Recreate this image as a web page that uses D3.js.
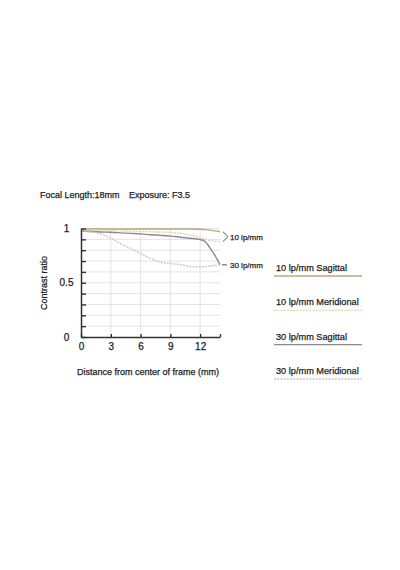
<!DOCTYPE html>
<html>
<head>
<meta charset="utf-8">
<script src="https://cdn.jsdelivr.net/npm/d3@7"></script>
<style>
  body { margin: 0; background: #fff; }
  svg text { font-family: "Liberation Sans", Arial, Helvetica, sans-serif; fill: #1e1e1e; stroke: #1e1e1e; stroke-width: 0.25; }
</style>
</head>
<body>
<svg id="mtf" width="400" height="570"></svg>
<script>
// distance from centre of frame (mm)
const positions = [0, 1, 2, 3, 4, 5, 6, 7, 8, 9, 10, 11, 12, 12.5, 13, 13.5, 14];

// contrast values
const sag10 = [0.995, 0.995, 0.995, 0.995, 0.995, 0.995, 0.995, 0.995, 0.995, 0.995, 0.995, 0.995, 0.993, 0.99, 0.985, 0.978, 0.97];
const mer10 = [0.985, 0.984, 0.982, 0.98, 0.978, 0.976, 0.973, 0.97, 0.967, 0.963, 0.955, 0.94, 0.917, 0.902, 0.89, 0.884, 0.88];
const sag30 = [0.975, 0.972, 0.968, 0.965, 0.96, 0.955, 0.95, 0.943, 0.937, 0.93, 0.92, 0.91, 0.898, 0.88, 0.82, 0.75, 0.665];
const mer30 = [0.975, 0.97, 0.95, 0.91, 0.86, 0.815, 0.77, 0.725, 0.69, 0.677, 0.668, 0.65, 0.645, 0.648, 0.655, 0.66, 0.665];

const seriesNames = ["10 lp/mm Sagittal", "10 lp/mm Meridional", "30 lp/mm Sagittal", "30 lp/mm Meridional"];
const xTicks = [0, 3, 6, 9, 12, 14];
const yTicks = [0, 0.1, 0.2, 0.3, 0.4, 0.5, 0.6, 0.7, 0.8, 0.9, 1];
const yLabels = [0, 0.5, 1];

const svg = d3.select("#mtf");

const x = d3.scaleLinear().domain([0, 14]).range([81, 220]);
const y = d3.scaleLinear().domain([0, 1]).range([337, 228.5]);

const colors = ["#bba77c", "#e0d3b3", "#8a8a8a", "#c6c6c6"];
const dashes = [null, "2,1.2", null, "2,1.2"];

// title
const title = svg.append("text").attr("y", 198).attr("font-size", 9);
title.append("tspan").attr("x", 40).text("Focal Length:18mm");
title.append("tspan").attr("x", 129).text("Exposure: F3.5");

// grid
const grid = svg.append("g").attr("stroke", "#dcdcdc").attr("stroke-width", 0.8);
grid.selectAll("line.h")
    .data(yTicks.filter(d => d > 0))
    .join("line")
    .attr("x1", x(0)).attr("x2", x(14))
    .attr("y1", d => y(d)).attr("y2", d => y(d));
grid.selectAll("line.v")
    .data([3, 6, 9, 12])
    .join("line")
    .attr("class", "v")
    .attr("x1", d => x(d)).attr("x2", d => x(d))
    .attr("y1", y(0)).attr("y2", y(1));

// curves
const line = d3.line()
    .x((d, i) => x(positions[i]))
    .y(d => y(d))
    .curve(d3.curveMonotoneX);

const allSeries = [sag10, mer10, sag30, mer30];
svg.append("g")
    .attr("fill", "none")
    .selectAll("path")
    .data(allSeries)
    .join("path")
    .attr("d", d => line(d))
    .attr("stroke", (d, i) => colors[i])
    .attr("stroke-width", 1.4)
    .attr("stroke-dasharray", (d, i) => dashes[i]);

// axes
const yAxis = svg.append("g")
    .attr("transform", `translate(${x(0)},0)`)
    .call(d3.axisLeft(y)
        .tickValues(yTicks)
        .tickSize(-5)
        .tickSizeOuter(0)
        .tickPadding(14.5)
        .tickFormat(d => yLabels.includes(d) ? d3.format("")(d) : ""));
yAxis.select(".domain").attr("stroke", "#333").attr("stroke-width", 1.5);
yAxis.selectAll(".tick line").attr("stroke", "#333").attr("stroke-width", 1.4);
yAxis.selectAll(".tick text")
    .attr("text-anchor", "middle")
    .attr("font-size", 10)
    .attr("font-family", null)
    .attr("fill", null);

const xAxis = svg.append("g")
    .attr("transform", `translate(0,${y(0)})`)
    .call(d3.axisBottom(x)
        .tickValues(xTicks)
        .tickSize(-3)
        .tickSizeOuter(0)
        .tickPadding(6)
        .tickFormat(d => d === 14 ? "" : d));
xAxis.select(".domain").attr("stroke", "#333").attr("stroke-width", 1.5);
xAxis.selectAll(".tick line").attr("stroke", "#333").attr("stroke-width", 1.4);
xAxis.selectAll(".tick text")
    .attr("font-size", 10)
    .attr("font-family", null)
    .attr("fill", null);

// axis titles
svg.append("text")
    .attr("transform", "translate(47,283) rotate(-90)")
    .attr("text-anchor", "middle")
    .attr("font-size", 9)
    .text("Contrast ratio");

svg.append("text")
    .attr("x", 148)
    .attr("y", 375)
    .attr("text-anchor", "middle")
    .attr("font-size", 9)
    .text("Distance from center of frame (mm)");

// curve group markers on the right
const ann = svg.append("g").attr("stroke", "#444").attr("stroke-width", 0.9).attr("fill", "none");
ann.append("path")
    .attr("d", `M${x(14) + 3},${y(0.97)} L${x(14) + 8},${y(0.925)} L${x(14) + 3},${y(0.88)}`);
ann.append("line")
    .attr("x1", x(14) + 2).attr("x2", x(14) + 7)
    .attr("y1", y(0.665)).attr("y2", y(0.665));

svg.append("text")
    .attr("x", x(14) + 10)
    .attr("y", y(0.925) + 3)
    .attr("font-size", 8)
    .text("10 lp/mm");
svg.append("text")
    .attr("x", x(14) + 10)
    .attr("y", y(0.665) + 3)
    .attr("font-size", 8)
    .text("30 lp/mm");

// legend
const legendY = d3.scalePoint().domain(seriesNames).range([271, 374]);
const legend = svg.append("g")
    .selectAll("g")
    .data(seriesNames)
    .join("g")
    .attr("transform", d => `translate(276,${legendY(d)})`);

legend.append("text")
    .attr("x", 0)
    .attr("y", 0)
    .attr("font-size", 9.2)
    .text(d => d);

legend.append("line")
    .attr("x1", -2).attr("x2", 86)
    .attr("y1", 5).attr("y2", 5)
    .attr("stroke", (d, i) => colors[i])
    .attr("stroke-width", 1.4)
    .attr("stroke-dasharray", (d, i) => dashes[i]);
</script>
</body>
</html>
